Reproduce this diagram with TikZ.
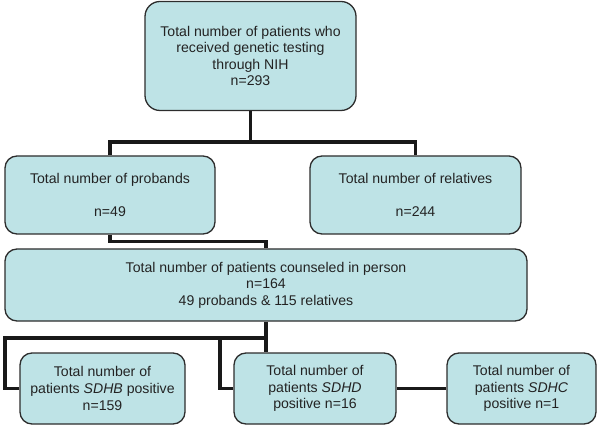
\documentclass[tikz,border=0pt]{standalone}
\usepackage{fontspec}
\setmainfont{Liberation Sans}
\definecolor{boxfill}{RGB}{190,227,230}
\definecolor{boxline}{RGB}{45,45,45}
\definecolor{txt}{RGB}{35,35,35}
\begin{document}
\begin{tikzpicture}[x=1pt,y=1pt,
  box/.style={draw=boxline, line width=1.3pt, fill=boxfill, rounded corners=12pt,
    align=center, text=txt, inner sep=0pt, font=\fontsize{14.1}{16.6}\selectfont},
  conn/.style={line width=3.5pt, draw=black!90}]
\useasboundingbox (0,0) rectangle (601,428);
\node[box, minimum width=211pt, minimum height=109pt, rounded corners=15pt] (top) at (250.5,372)
  {Total number of patients who\\received genetic testing\\through NIH\\n=293};
\node[box, minimum width=210pt, minimum height=78pt] (prob) at (110,233)
  {Total number of probands\\~\\n=49};
\node[box, minimum width=211pt, minimum height=78pt] (rel) at (415.5,233)
  {Total number of relatives\\~\\n=244};
\node[box, minimum width=522pt, minimum height=72pt] (couns) at (266,143)
  {Total number of patients counseled in person\\n=164\\49 probands \& 115 relatives};
\node[box, minimum width=165pt, minimum height=71pt] (sdhb) at (102.5,39.5)
  {Total number of\\patients \textit{SDHB} positive\\n=159};
\node[box, minimum width=162pt, minimum height=71pt] (sdhd) at (315,39.5)
  {Total number of\\patients \textit{SDHD}\\positive n=16};
\node[box, minimum width=149pt, minimum height=71pt] (sdhc) at (521.5,39.5)
  {Total number of\\patients \textit{SDHC}\\positive n=1};
\coordinate (j1) at (250.5,286);
\coordinate (bl) at (5,90);
\coordinate (bm) at (220,90);
\draw[conn] (top.south) -- (j1);
\draw[conn] (prob.north) |- (j1) -| (rel.north);
\draw[conn] (prob.south) -- ++(0,-7) -| (couns.north);
\draw[conn] (couns.south) -- (couns.south |- sdhd.north);
\draw[conn] (sdhb.west) -| (bl) -- (couns.south |- bl);
\draw[conn] (sdhd.west) -| (bm);
\draw[conn] (sdhd.east) -- (sdhc.west);
\end{tikzpicture}
\end{document}
